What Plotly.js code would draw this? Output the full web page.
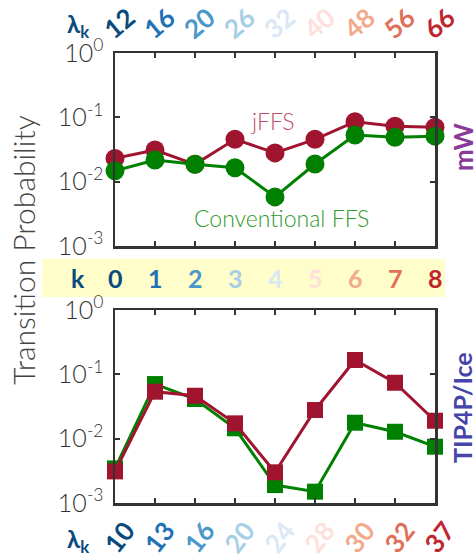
<!DOCTYPE html>
<html><head><meta charset="utf-8">
<script src="https://cdn.plot.ly/plotly-3.0.1.min.js"></script>
<style>body{margin:0;padding:0;background:#fff}#chart{width:475px;height:559px}</style>
</head><body><div id="chart"></div>
<script>
const k = [0,1,2,3,4,5,6,7,8];
const lambdaMW = ['12','16','20','26','32','40','48','56','66'];
const lambdaTIP = ['10','13','16','20','24','28','30','32','37'];
const mwJFFS = [0.023,0.031,0.0186,0.0455,0.028,0.0455,0.0855,0.073,0.070];
const mwFFS = [0.0148,0.0217,0.0186,0.0165,0.0058,0.0188,0.053,0.049,0.051];
const tipJFFS = [0.0031,0.0537,0.0465,0.0173,0.0030,0.0279,0.167,0.074,0.019];
const tipFFS = [0.00345,0.0706,0.0413,0.0145,0.0019,0.0015,0.0177,0.0128,0.0075];
const kColors = ['#0b4a7d','#2171b5','#4a98c9','#a6cfe6','#dae8f5','#fde0dc','#f4a98a','#e0705a','#c0262f'];

const RED = '#a01430', GREEN = '#008000';
const traces = [
  {x:k, y:mwJFFS, xaxis:'x', yaxis:'y', mode:'lines+markers', cliponaxis:false,
   line:{color:RED,width:3}, marker:{symbol:'circle',size:19,color:RED}},
  {x:k, y:mwFFS, xaxis:'x', yaxis:'y', mode:'lines+markers', cliponaxis:false,
   line:{color:GREEN,width:3}, marker:{symbol:'circle',size:19,color:GREEN}},
  {x:k, y:tipFFS, xaxis:'x2', yaxis:'y2', mode:'lines+markers', cliponaxis:false,
   line:{color:GREEN,width:3}, marker:{symbol:'square',size:16,color:GREEN}},
  {x:k, y:tipJFFS, xaxis:'x2', yaxis:'y2', mode:'lines+markers', cliponaxis:false,
   line:{color:RED,width:3}, marker:{symbol:'square',size:16,color:RED}}
];

const W=475,H=559;
const xd=[115/W,435/W];
const yd1=[1-246/H,1-53/H];
const yd2=[1-503/H,1-310/H];
const tickFont={family:'Lato',size:25,color:'#333',weight:300};
const yaxisBase={type:'log',range:[-3,0],tickvals:[1,0.1,0.01,0.001],
  ticktext:['10<sup>0</sup>','10<sup>-1</sup>','10<sup>-2</sup>','10<sup>-3</sup>'],
  ticks:'inside',ticklen:5,tickwidth:2,tickcolor:'#333',showline:true,linewidth:2.5,linecolor:'#333',
  mirror:'ticks',showgrid:false,zeroline:false,tickfont:tickFont,ticklabelstandoff:4};
const xaxisBase={range:[0,8],tickvals:k,showticklabels:false,ticks:'inside',ticklen:5,tickwidth:2,
  tickcolor:'#333',showline:true,linewidth:2.5,linecolor:'#333',mirror:'ticks',showgrid:false,zeroline:false};

const ann=[];
const C={xanchor:'center',yanchor:'middle',showarrow:false};
ann.push(Object.assign({xref:'paper',yref:'paper',x:78/W,y:1-26/H,text:'<b>λ<sub>k</sub></b>',
  font:{family:'Lato',size:24,color:kColors[0]}},C));
ann.push(Object.assign({xref:'paper',yref:'paper',x:78/W,y:1-540/H,text:'<b>λ<sub>k</sub></b>',
  font:{family:'Lato',size:24,color:kColors[0]}},C));
ann.push(Object.assign({xref:'paper',yref:'paper',x:78/W,y:1-278/H,text:'<b>k</b>',
  font:{family:'Lato',size:25,color:kColors[0]}},C));
k.forEach((kk,i)=>{
  ann.push(Object.assign({xref:'x',yref:'paper',x:kk,xshift:4,y:1-23/H,text:'<b>'+lambdaMW[i]+'</b>',textangle:-40,
    font:{family:'Lato',size:26,color:kColors[i]}},C));
  ann.push(Object.assign({xref:'x',yref:'paper',x:kk,xshift:4,y:1-537/H,text:'<b>'+lambdaTIP[i]+'</b>',textangle:-52,
    font:{family:'Lato',size:26,color:kColors[i]}},C));
  ann.push(Object.assign({xref:'x',yref:'paper',x:kk,y:1-278/H,text:'<b>'+kk+'</b>',
    font:{family:'Lato',size:25,color:kColors[i]}},C));
});
ann.push(Object.assign({xref:'paper',yref:'paper',x:273/W,y:1-121/H,text:'jFFS',
  font:{family:'Lato',size:23,color:'#c0506a',weight:300}},C));
ann.push(Object.assign({xref:'paper',yref:'paper',x:281/W,y:1-218/H,text:'Conventional FFS',
  font:{family:'Lato',size:23,color:'#2e9a2e',weight:300}},C));
ann.push(Object.assign({xref:'paper',yref:'paper',x:23/W,y:1-250/H,text:'Transition Probability',textangle:-90,
  font:{family:'Lato',size:30,color:'#444',weight:300}},C));
ann.push(Object.assign({xref:'paper',yref:'paper',x:463/W,y:1-147/H,text:'<b>mW</b>',textangle:-90,
  font:{family:'Lato',size:26,color:'#8a3a98'}},C));
ann.push(Object.assign({xref:'paper',yref:'paper',x:462/W,y:1-408/H,text:'<b>TIP4P/Ice</b>',textangle:-90,
  font:{family:'Lato',size:25,color:'#4646a8'}},C));

const layout={width:W,height:H,margin:{l:0,r:0,t:0,b:0},showlegend:false,
  paper_bgcolor:'#fff',plot_bgcolor:'#fff',
  xaxis:Object.assign({},xaxisBase,{domain:xd,anchor:'y'}),
  yaxis:Object.assign({},yaxisBase,{domain:yd1,anchor:'x'}),
  xaxis2:Object.assign({},xaxisBase,{domain:xd,anchor:'y2'}),
  yaxis2:Object.assign({},yaxisBase,{domain:yd2,anchor:'x2'}),
  shapes:[{type:'rect',xref:'paper',yref:'paper',x0:42/W,x1:445/W,y0:1-297/H,y1:1-259/H,
    fillcolor:'#fffdc9',line:{width:0},layer:'below'}],
  annotations:ann};
Plotly.newPlot('chart',traces,layout,{staticPlot:true});
</script></body></html>
